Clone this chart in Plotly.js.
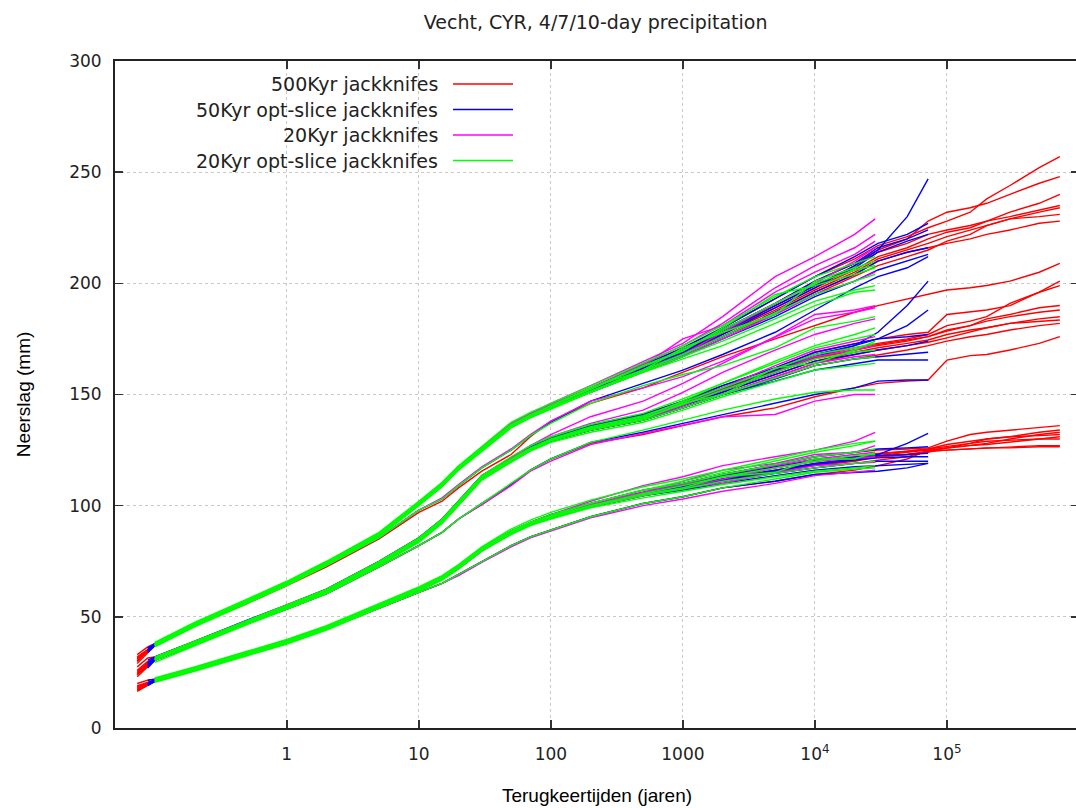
<!DOCTYPE html>
<html><head><meta charset="utf-8">
<script src="https://cdn.plot.ly/plotly-3.0.1.min.js"></script>
<style>html,body{margin:0;padding:0;overflow:hidden;background:#fff}</style>
</head><body><div id="chart"></div>
<script>
// Return periods (years) for each data set
const T_500k = [0.0736,0.0885,0.1,0.2,0.5,1,2,5,10,15,20,30,50,70,100,200,500,1000,2000,5000,10000,20000,30000,50000,72000,100000,150000,200000,300000,500000,716000];
const T_50k  = [0.0885,0.1,0.2,0.5,1,2,5,10,15,20,30,50,70,100,200,500,1000,2000,5000,10000,20000,30000,50000,72000];
const T_20k  = [0.1,0.2,0.5,1,2,5,10,15,20,30,50,70,100,200,500,1000,2000,5000,10000,20000,28600];

// ---- 10-day precipitation (upper bundle) ----
const red10 = [
 [31,35,37.5,46.5,57,65,74,87,101,109.5,117,125.5,136,140.5,144.5,152,162,169,178,190,199,208,214,218,222,224,226,228,230,233,235],
 [29,34,37,46,56.5,64.5,73.5,86.5,100.5,109,116.5,125,135.5,140,144,151.5,161,168,176,187,196,204,210,214,216,218,220,222,224,227,228],
 [33,36.5,38,47,57.5,65.5,74.5,87.5,101.5,110,117.5,126,136.5,141,145,153,163,171,180,193,203,211,217,221,225,228,232,238,244,252,257],
 [30,35,37,46,56,64,72.5,85,97,102,108,115.5,123,131,138,146,153,160,167,175,181,187,190,193,195,197,198,199,201,205,209],
 [32,35.5,37.5,46.5,57,65,74,87,101,109.5,117,125.5,136,140.5,144.5,152.5,162.5,170,179,191,201,209,215,220,228,232,234,236,240,245,248],
 [30.5,34.5,37,46,56.5,64.5,73.5,86.5,100.5,109,116.5,125,135.5,140,144,151.5,161,168,177,188,197,205,211,215,218,221,224,226,229,232,234],
 [31.5,35,37.5,46.5,57,65,74,87,101,109.5,117,125.5,136,140.5,144.5,152,162,169.5,178,189,198,206,212,216,220,223,225,228,232,236,240],
 [30,34,37,46,56.5,64.5,73.5,86.5,100.5,109,116.5,125,135.5,140,144,151.5,161,168,176,186,195,203,208,212,215,219,222,226,229,230,231]
];
const blue10 = [
 [35,37.5,46.5,57,65,74,87,101,109.5,117,125.5,136,140.5,144.5,152,162,169,178,190,199,207,214,219,222],
 [34,37,46,56.5,64.5,73.5,86.5,100.5,109,116.5,125,135.5,140,144,151.5,161,168,176,187,196,204,210,214,216],
 [36,38,47,57.5,65.5,74.5,87.5,101.5,110,117.5,126,136.5,141,145,153,163,171,180,193,203,212,218,222,227],
 [35,37,46,56.5,64.5,73,85.5,98,103,109,117,125,131.5,137.5,147,155,161,168,178,188,198,203,207,212],
 [34.5,37.5,46.5,57,65,74,87,101,109.5,117,125.5,136,140.5,144.5,152,162,169,177,189,198,208,215,230,247],
 [35.5,37.5,46.5,57,65,74,87,101,109.5,117,125.5,136,140.5,144.5,152.5,162.5,170,179,191,201,209,216,220,224],
 [35,37,46,56.5,64.5,73.5,86.5,100.5,109,116.5,125,135.5,140,144,151,160,167,175,185,194,201,206,210,213]
];
const mag10 = [
 [38,47,57.5,65.5,74.5,87.5,101.5,110,117.5,126,137,141.5,146,154,165,173,185,203,212,222,229],
 [37.5,46.5,57,65,74,87,101,109.5,117,125.5,136.5,141,145.5,153,164,172,182,198,208,216,222],
 [37,46,56.5,64.5,73,85.5,98,103.5,109.5,117.5,125.5,132,138,147,153,158,165,176,184,187,189],
 [37.5,46.5,57,65,74,87,101,109.5,117,125.5,136,140,144,151.5,161,168,178,191,200,210,216],
 [37,46,56.5,64.5,73.5,86.5,100.5,109,116.5,125,135.5,140,144,151,160,167,175,186,195,201,205],
 [37.5,46.5,57,65,74,87,101,109.5,117,125.5,136,140.5,145,153,163,175,181,196,205,213,219]
];
const green10 = [
 [38.5,47.5,58,66,75,88,102,110.5,118,126.5,137.5,142,146,154,164,172,181,194,203,209,212],
 [37,46,56.5,64.5,73.5,86.5,100.5,109,116.5,125,135.5,140,144,151.5,161,168,176,187,195,201,204],
 [36.5,45.5,56,64,73,86,100,108.5,116,124.5,135,139.5,143.5,151,160.5,167,174,184,192,197,199],
 [38,47,57.5,65.5,74.5,87.5,101.5,110,117.5,126,136.5,141,145,153,163,170,179,191,200,206,208],
 [37.5,46.5,57,65,74,87,101,109.5,117,125.5,136,140.5,144.5,152.5,162.5,169.5,180,195,199,204,207],
 [37,46,56.5,64.5,73,85.5,98,103,109,117,125,131.5,137,146,154,159,163,171,180,183,185],
 [38,47,57.5,65.5,74,87,100.5,109,116.5,125,135.5,140,144,151,160,166,172,182,190,196,197],
 [37.5,46.5,57,65,74,87,101,109.5,117,125.5,136,140.5,145,153,161,171,178,186,201,207,210]
];

// ---- 7-day precipitation (middle bundle) ----
const red7 = [
 [25,29,31,38,47.5,54.3,61.5,74,84.5,93,101,112.5,120.5,125.5,129.5,134.5,139,145,151,159,165,169,171,173,174.5,177,179,180,182,184,185],
 [23,27.5,30.5,37.5,47,54,61,73.5,84,92.5,100.5,112,120,125,129,134,138.5,144,150,157,163,166,168,170,172,174,176,177,179,181,182],
 [27.5,31.5,32,39,48.5,55.3,62.5,75,85.5,94,102,113.5,121.5,126.5,130.5,136,141,147,154,162,169,173,175,177,178,186,187,188,190,196,201],
 [24,28,30.5,37.5,47,53.5,60.5,72.5,82,88,94,100.5,109.5,116,121,128,132,136,140,144,149,153,155,156,156.5,165.5,167.5,168,170,173,176],
 [26,30,31.5,38.5,48,54.8,62,74.5,85,93.5,101.5,113,121,126,130,135.5,140.5,146.5,153,161,167,171,173,175,177,181,183,185,191,196,199],
 [24.5,28.5,31,38,47.5,54.3,61.5,74,84.5,93,101,112.5,120.5,125.5,129.5,134.5,139.5,145.5,152,160,166,170,172,174,176,179,181,183,185,187,188],
 [25.5,29.5,31,38,47.5,54.3,61.5,74,84.5,93,101,112.5,120.5,125.5,129.5,135,140,146,152.5,160.5,166.5,170,172.5,174.5,176,178.5,181,184,186,189,190],
 [24,28.5,30.5,37.5,47,54,61,73.5,84,92.5,100.5,112,120,125,129,134,138.5,144,150,158,164,168,170,172,173.5,175.5,178,180,182,183,183.5]
];
const blue7 = [
 [29,31,38,47.5,54.3,61.5,74,84.5,93,101,112.5,120.5,125.5,129.5,134.5,139,145,151,159,165,168,170,172,174],
 [27,30.5,37.5,47,54,61,73.5,84,92.5,100.5,112,120,125,129,134,138.5,144,150,157,163,166,167,168,169],
 [30.5,32,39,48.5,55.3,62.5,75,85.5,94,102,113.5,121.5,126.5,130.5,136,141,147,154,162,169,173,175,176,177],
 [28,30.5,37.5,47,53.5,60.5,72.5,82,88,94,101,109.5,116,121,128.5,133,137,141,146,150,153,156,156.5,156.5],
 [28.5,31,38,47.5,54.3,61.5,74,84.5,93,101,112.5,120.5,125.5,129.5,134.5,139.5,145.5,152,160,167,172,178,190,201],
 [29.5,31.5,38.5,48,54.8,62,74.5,85,93.5,101.5,113,121,126,130,135.5,140.5,146.5,153,161,168,172,175,181,188],
 [28,30.5,37.5,47,54,61,73.5,84,92.5,100.5,112,120,125,129,134,138.5,144,150,156,161,164,165.5,165.5,165.5]
];
const mag7 = [
 [31.5,38.5,48,54.8,62,74.5,85,93.5,101.5,113,121.5,127,131,137,143,151,160,170,177,182,184],
 [31,38,47.5,54.3,61.5,74,84.5,93,101,112.5,120.5,125.5,129.5,135,140,146,153,163,170,174,176],
 [30.5,37.5,47,53.5,60.5,72.5,82,88,94,100.5,109,115.5,120,127.5,132.5,136.5,140,141,147,150,150],
 [31,38,47.5,54.3,61.5,74,84.5,93,101,112.5,120.5,125.5,129.5,134.5,139,145,152,160,167,170,172],
 [30.5,37.5,47,54,61,73.5,84,92.5,100.5,112,120,125,129,134,138.5,144,150,158,164,167,168],
 [31,38,47.5,54.3,61.5,74,84.5,93,101,112.5,121,127,132,140,147,155,164,176,186,188,190]
];
const green7 = [
 [32,39,48.5,55.3,62.5,75,85.5,94,102,113.5,122,127,131,136.5,141.5,148,155,164,171,175,177],
 [30.5,37.5,47,54,61,73.5,84,92.5,100.5,112,120,125,129,134,138.5,144,150,157.5,163,166,167],
 [29.5,37,46.5,53.5,60.5,73,83.5,92,100,111.5,119.5,124.5,128.5,133,137.5,143,149,156,161,163,164],
 [31.5,38.5,48,54.8,62,74.5,85,93.5,101.5,113,121,126,130,135.5,140.5,146.5,153,161.5,168,171,173],
 [31,38,47.5,54.3,61.5,74,84.5,93,101,112.5,120.5,125.5,129.5,134.5,139.5,145.5,152,160,166,169,170],
 [30.5,37.5,47,53.5,60.5,72.5,82,88,94,101,110,116,121,128.5,134,138.5,143,148,151,152,152],
 [31,38,47.5,54.3,61.5,74,84.5,93,101,112.5,120.5,125.5,129.5,135,140,147,155,165,172,177,180],
 [31,38,47.5,54.3,61.5,74,84.5,93,101,112.5,120.5,125.5,129.5,134.5,139,146,150,162,164,170,174]
];

// ---- 4-day precipitation (lower bundle) ----
const red4 = [
 [18,20,21.5,26.5,33.5,38.8,45,55,62.5,67.5,72.5,80.5,88,92,95,100,105.5,108.5,112,116,119,121,122.5,124,125,126,127,127.5,128.5,130,131],
 [16.5,19,21,26,33,38.3,44.5,54.5,62,67,72,80,87.5,91.5,94.5,99.5,104.5,107.5,111,114.5,117,119,120.5,122,124.5,125,125.5,126,126.5,127,127],
 [20,21.5,22,27,34,39.3,45.5,55.5,63,68,73,81,88.5,92.5,96,101,107,110,114,118.5,122,124,125,125.5,126,129,132,133,134,135,136],
 [17,19.5,21,26,33,38.3,44.5,54,61,65,69,75,82,86,89,95,101,104,108,111,114,116,118,121,125,126,127,128,130,132,133],
 [19,20.5,21.5,26.5,33.5,38.8,45,55,62.5,67.5,72,80,88,92,95,100.5,106,109.5,113.5,117.5,120.5,122,123,124.5,125.5,126.5,128,130,131,131.5,132],
 [17.5,20,21.5,26.5,33.5,38.8,45,55,62.5,67.5,72.5,80.5,88,92,95,100,105,108,111.5,115.5,118.5,120.5,122,123,124.5,125,125.5,126,126,126.5,126.5],
 [18.5,20.5,21.5,26.5,33.5,38.8,45,55,62.5,67.5,72.5,80.5,88,92,95,100.5,106,109,113,117,120,122,123.5,124.5,125.5,127.5,129,130,131,133,134],
 [17,19.5,21,26,33,38.3,44.5,54.5,62,67,72,80,87.5,91.5,94.5,99.5,104.5,107.5,111,115,118,120,122,123,124,126,128,129,129.5,130,130]
];
const blue4 = [
 [20,21.5,26.5,33.5,38.8,45,55,62.5,67.5,72.5,80.5,88,92,95,100,105.5,108.5,112,116,119,121,122.5,123,123.5],
 [19,21,26,33,38.3,44.5,54.5,62,67,72,80,87.5,91.5,94.5,99.5,104.5,107.5,111,114.5,117,119,120,120,120],
 [21.5,22,27,34,39.3,45.5,55.5,63,68,73,81,88.5,92.5,96,101,107,110,114,118.5,122,124,125.5,126,126.5],
 [19.5,21,26,33,38.3,44.5,54,61,65,69,75,82,86,89,95,101,104,108,111,114,115,115.5,117,119],
 [20.5,21.5,26.5,33.5,38.8,45,55,62.5,67.5,72.5,80.5,88,92,95,100.5,106,109.5,113.5,117.5,120.5,122,123,128,132.5],
 [20,21.5,26.5,33.5,38.8,45,55,62.5,67.5,72.5,80.5,88,92,95,100,105,108,111.5,115.5,118.5,120.5,121.5,122,122],
 [19.5,21,26,33,38.3,44.5,54.5,62,67,72,80,87.5,91.5,94.5,99.5,104.5,107,110,113.5,116,117.5,118,118.5,119]
];
const mag4 = [
 [22,27,34,39.3,45.5,55.5,63,68,73,81,88.5,92.5,96,102,109,113,118,122,125,129,133],
 [21.5,26.5,33.5,38.8,45,55,62.5,67.5,72.5,80.5,88,92,95,100.5,106,109.5,114,118,121,123,124],
 [21,26,33,38.3,44.5,54,61,65,68.5,74.5,81.5,85.5,88.5,94.5,100,103,106.5,110,113.5,115,116],
 [21.5,26.5,33.5,38.8,45,55,62.5,67.5,72,80,88,92,95,100,105,108,112,117,120,121.5,122],
 [21,26,33,38.3,44.5,54.5,62,67,71.5,79.5,87.5,91.5,94.5,99.5,104.5,108,110,115,118,119,119.5],
 [21.5,26.5,33.5,38.8,45,55,62.5,67.5,72.5,80.5,88,92,95.5,101,106,111,116,119,123,124,127]
];
const green4 = [
 [22.5,27.5,34.5,39.8,46,56,63.5,68.5,73.5,81.5,89.5,93.5,97,102.5,108.5,112,116,121,125,128,129],
 [21,26,33,38.3,44.5,54.5,62,67,72,80,87.5,91.5,94.5,99.5,104.5,107.5,111,114.5,117,119,120],
 [20.5,25.5,32.5,37.8,44,54,61.5,66.5,71.5,79.5,87,91,94,99,103.5,106.5,109.5,113,115.5,117,118],
 [22,27,34,39.3,45.5,55.5,63,68,73,81,88.5,92.5,96,101,107,110,114,118.5,122,124,125.5],
 [21.5,26.5,33.5,38.8,45,55,62.5,67.5,72.5,80.5,88,92,95,100,105.5,109,113,117,120,122.5,123],
 [21,26,33,38.3,44.5,54,61,65,69,75,82,86,89,95,101,104,108,112,115,116.5,117],
 [21.5,26.5,33.5,38.8,45,55,62.5,67.5,72.5,80.5,88.5,92.5,95.5,101,107,111,115,120,124,127,129],
 [21.5,26.5,33.5,38.8,45,55,62.5,67.5,72.5,80.5,88,92,95,100,105,108,113,115,121,121,124]
];

const legendNames = ['500Kyr jackknifes','50Kyr opt-slice jackknifes','20Kyr jackknifes','20Kyr opt-slice jackknifes'];
const xTickVals = [1,10,100,1000,10000,100000];
const xTickText = ['1','10','100','1000','10<sup>4</sup>','10<sup>5</sup>'];
const yTickVals = [0,50,100,150,200,250,300];

const colors = ['#ff0000','#0000ff','#ff00ff','#00ff00'];
const sets = [
  {x:T_500k, groups:[red10, red7, red4]},
  {x:T_50k,  groups:[blue10, blue7, blue4]},
  {x:T_20k,  groups:[mag10, mag7, mag4]},
  {x:T_20k,  groups:[green10, green7, green4]}
];
const traces = [];
sets.forEach((s, si) => {
  s.groups.forEach((g, gi) => g.forEach((vals, li) => {
    if (vals.length !== s.x.length) console.error('length mismatch', si, gi, li, vals.length, s.x.length);
    traces.push({x:s.x, y:vals, type:'scatter', mode:'lines', name:legendNames[si],
      line:{color:colors[si], width:1.4}, showlegend:false, hoverinfo:'skip'});
  }));
});

const W = 1081, H = 808, ML = 115, MR = 2, MT = 61, MB = 80;
const pw = W-ML-MR, ph = H-MT-MB;
const legTextRight = 440, legLineX0 = 453, legLineX1 = 513, legY = [84, 109.5, 135, 160.5];
const annotations = [], shapes = [];
legendNames.forEach((n, i) => {
  const yp = (H-MB-legY[i])/ph;
  annotations.push({text:n, xref:'paper', yref:'paper', x:(legTextRight-ML)/pw, y:yp,
    xanchor:'right', yanchor:'middle', showarrow:false,
    font:{family:'DejaVu Sans', size:19, color:'#222'}});
  shapes.push({type:'line', xref:'paper', yref:'paper', x0:(legLineX0-ML)/pw, x1:(legLineX1-ML)/pw,
    y0:yp, y1:yp, line:{color:colors[i], width:1.6}});
});

const layout = {
  width:W, height:H, margin:{l:ML, r:MR, t:MT, b:MB},
  paper_bgcolor:'#fff', plot_bgcolor:'#fff', showlegend:false,
  title:{text:'Vecht, CYR, 4/7/10-day precipitation', x:0.551, xanchor:'center', y:0.972, yanchor:'middle',
    font:{family:'DejaVu Sans', size:19, color:'#222'}},
  xaxis:{type:'log', range:[Math.log10(0.05), 6], tickvals:xTickVals, ticktext:xTickText,
    ticks:'inside', ticklen:8, tickwidth:1.5, tickcolor:'#333', mirror:'allticks',
    showline:true, linecolor:'#222', linewidth:2, showgrid:true, gridcolor:'#c8c8c8', griddash:'dot', gridwidth:1,
    zeroline:false, ticklabelstandoff:10,
    tickfont:{family:'DejaVu Sans', size:17, color:'#222'},
    title:{text:'Terugkeertijden (jaren)', standoff:25, font:{family:'Liberation Sans', size:19, color:'#000'}}},
  yaxis:{range:[0,300], tickvals:yTickVals, ticks:'inside', ticklen:8, tickwidth:1.5, tickcolor:'#333', mirror:'allticks',
    showline:true, linecolor:'#222', linewidth:2, showgrid:true, gridcolor:'#c8c8c8', griddash:'dot', gridwidth:1,
    zeroline:false, ticklabelstandoff:8,
    tickfont:{family:'DejaVu Sans', size:17, color:'#222'},
    title:{text:'Neerslag (mm)', standoff:33, font:{family:'Liberation Sans', size:19, color:'#000'}}},
  annotations:annotations, shapes:shapes
};
Plotly.newPlot('chart', traces, layout, {displayModeBar:false, staticPlot:true});
</script></body></html>
